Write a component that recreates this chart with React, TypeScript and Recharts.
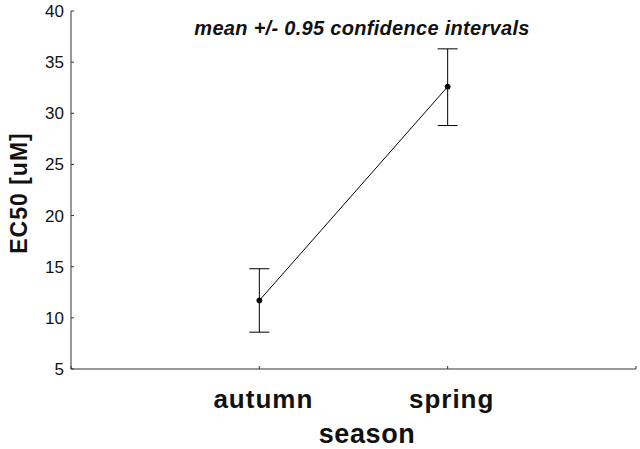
import React from 'react';
import { LineChart, Line, XAxis, YAxis, ErrorBar } from 'recharts';

const seasons = ['autumn', 'spring'];
const seasonPos = [1, 2];
const means = [11.7, 32.6];
const lower = [8.6, 28.8];
const upper = [14.8, 36.3];
const yTicks = [5, 10, 15, 20, 25, 30, 35, 40];
const xTicks = [0, 1, 2, 3];

const FONT = '"Liberation Sans", Arial, sans-serif';

const data = seasons.map((s, i) => ({
  x: seasonPos[i],
  name: s,
  mean: means[i],
  err: [means[i] - lower[i], upper[i] - means[i]],
}));

// ticks point inward, labels outside
const YTick = (props: any) => {
  const { x, y, payload } = props;
  const axisX = x + 7;
  return (
    <g>
      <line x1={axisX} y1={y} x2={axisX + 3} y2={y} stroke="#333" />
      <text x={x} y={y + 6} textAnchor="end" fontSize={17} fontFamily={FONT} fill="#111">
        {payload.value}
      </text>
    </g>
  );
};

const XTick = (props: any) => {
  const { x, y, payload } = props;
  const idx = seasonPos.indexOf(payload.value);
  return (
    <g>
      <line x1={x} y1={y} x2={x} y2={y - 3} stroke="#333" />
      {idx >= 0 && (
        <text x={x + 4} y={y + 39} textAnchor="middle" fontSize={26} fontWeight="bold" letterSpacing={1} fontFamily={FONT} fill="#111">
          {seasons[idx]}
        </text>
      )}
    </g>
  );
};

export default function App() {
  return (
    <div style={{ position: 'absolute', left: 0, top: 0, width: 640, height: 449, background: '#fff' }}>
      <LineChart width={640} height={449} data={data} margin={{ top: 11, right: 4, bottom: 0, left: 0 }}>
        <XAxis
          dataKey="x"
          type="number"
          domain={[0, 3]}
          ticks={xTicks}
          tickSize={0}
          tickMargin={0}
          height={80}
          stroke="#333"
          tick={<XTick />}
          interval={0}
        />
        <YAxis
          type="number"
          domain={[5, 40]}
          ticks={yTicks}
          tickSize={0}
          tickMargin={7}
          width={71}
          stroke="#333"
          tick={<YTick />}
          interval={0}
        />
        <Line
          dataKey="mean"
          stroke="#000"
          strokeWidth={1}
          dot={{ r: 2.5, fill: '#000', stroke: '#000' }}
          isAnimationActive={false}
        >
          <ErrorBar dataKey="err" direction="y" width={10} stroke="#000" strokeWidth={1} />
        </Line>
        <text x={362} y={35} textAnchor="middle" fontSize={20} fontWeight="bold" fontStyle="italic" letterSpacing={0.3} fontFamily={FONT} fill="#111">
          mean +/- 0.95 confidence intervals
        </text>
        <text x={367} y={443} textAnchor="middle" fontSize={27} fontWeight="bold" letterSpacing={0.6} fontFamily={FONT} fill="#111">
          season
        </text>
        <text
          x={27}
          y={193}
          textAnchor="middle"
          fontSize={23}
          fontWeight="bold"
          letterSpacing={1}
          fontFamily={FONT}
          fill="#111"
          transform="rotate(-90 27 193)"
        >
          EC50 [uM]
        </text>
      </LineChart>
    </div>
  );
}
